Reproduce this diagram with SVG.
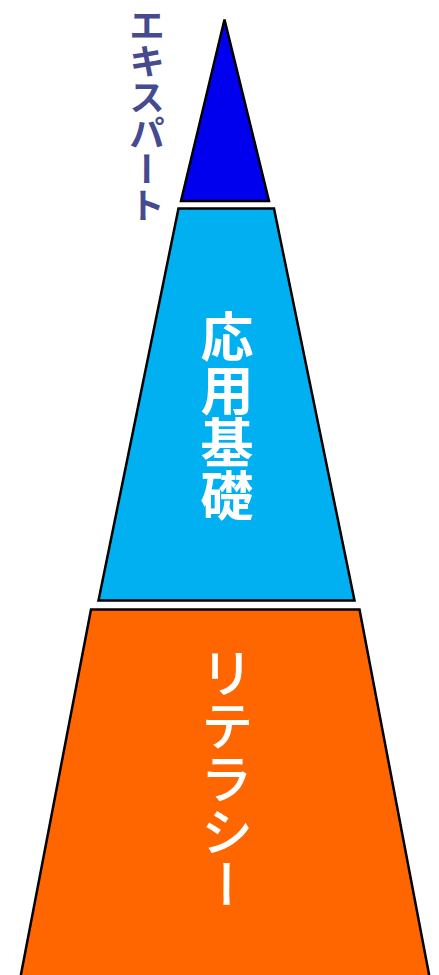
<svg xmlns="http://www.w3.org/2000/svg" width="439" height="975" viewBox="0 0 439 975">
<style>
.layer{stroke:#000;stroke-width:2.5;stroke-linejoin:miter}
.vt{writing-mode:vertical-rl;text-orientation:upright;font-family:"Noto Sans CJK JP","Noto Sans CJK SC",sans-serif}
</style>
<rect width="439" height="975" fill="#fff"/>
<g id="expert">
<polygon class="layer" points="224.5,19.5 269,201 181,201" fill="#0000ee"/>
<text class="vt" x="147" y="7" font-size="36" font-weight="bold" fill="#464a8f">エキスパート</text>
</g>
<g id="applied">
<polygon class="layer" points="178.5,208.5 274,208.5 354.5,600.5 98.5,600.5" fill="#00b0f0"/>
<text class="vt" x="227" y="310" font-size="53" font-weight="bold" fill="#fff">応用基礎</text>
</g>
<g id="literacy">
<polygon class="layer" points="91,609.5 359.5,609.5 432,990 18,990" fill="#ff6600"/>
<text class="vt" x="227" y="646" font-size="53" font-weight="500" fill="#fff">リテラシー</text>
</g>
<g id="connectors"></g>
</svg>
